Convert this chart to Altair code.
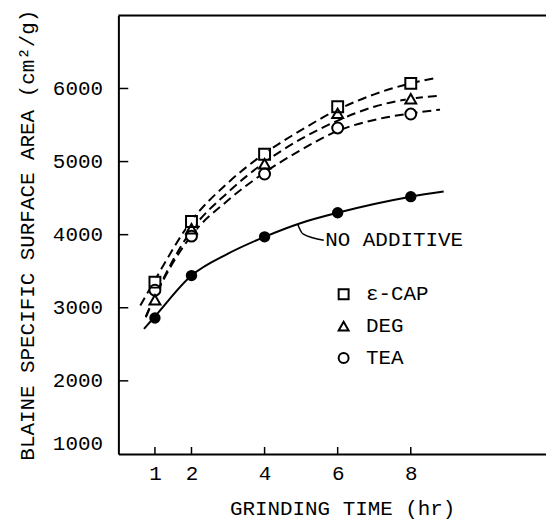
import altair as alt
import pandas as pd

# ---- data ----
times = [1, 2, 4, 6, 8]
series_names = ["ε-CAP", "DEG", "TEA"]
ecap_vals = [3350, 4180, 5100, 5750, 6070]
deg_vals = [3110, 4080, 4970, 5660, 5860]
tea_vals = [3240, 3980, 4830, 5460, 5650]
none_vals = [2860, 3440, 3970, 4300, 4520]

# fitted curves
ecap_curve_t = [0.6, 1, 2, 3, 4, 5, 6, 7, 8, 8.65]
ecap_curve_v = [3030, 3380, 4190, 4710, 5110, 5430, 5710, 5920, 6070, 6140]
deg_curve_t = [0.75, 1, 2, 3, 4, 5, 6, 7, 8, 8.75]
deg_curve_v = [2880, 3160, 4060, 4580, 4990, 5310, 5560, 5750, 5860, 5900]
tea_curve_t = [0.75, 1, 2, 3, 4, 5, 6, 7, 8, 8.8]
tea_curve_v = [2870, 3150, 3990, 4470, 4850, 5160, 5420, 5570, 5660, 5710]
none_curve_t = [0.7, 1, 2, 3, 4, 5, 6, 7, 8, 8.9]
none_curve_v = [2710, 2880, 3440, 3740, 3970, 4160, 4300, 4420, 4520, 4590]

leader_t = [4.9, 5.05, 5.62]
leader_v = [4150, 4010, 3925]
annot_text = ["NO ADDITIVE"]
annot_t = [5.66]
annot_v = [3920]

x_ticks = [1, 2, 4, 6, 8]
y_ticks = [2000, 3000, 4000, 5000, 6000]
y_labels = [1000, 2000, 3000, 4000, 5000, 6000]
x_domain = [0, 11.7]
y_domain = [1000, 7000]

FONT = "Liberation Mono"
FS = 21

# ---- tables ----
pts = pd.DataFrame({
    "t": times * 3,
    "v": ecap_vals + deg_vals + tea_vals,
    "series": [s for s in series_names for _ in times],
})
none_pts = pd.DataFrame({"t": times, "v": none_vals})

rows = []
for name, ts, vs in [("ε-CAP", ecap_curve_t, ecap_curve_v),
                     ("DEG", deg_curve_t, deg_curve_v),
                     ("TEA", tea_curve_t, tea_curve_v)]:
    for i, (t, v) in enumerate(zip(ts, vs)):
        rows.append({"t": t, "v": v, "series": name, "o": i})
dash_curves = pd.DataFrame(rows)
solid_curve = pd.DataFrame({"t": none_curve_t, "v": none_curve_v, "o": range(len(none_curve_t))})
leader = pd.DataFrame({"t": leader_t, "v": leader_v, "o": range(len(leader_t))})
annot = pd.DataFrame({"t": annot_t, "v": annot_v, "label": annot_text})

xt = pd.DataFrame({"t": x_ticks, "v": [y_domain[0]] * len(x_ticks),
                   "v2": [y_domain[0] + 95] * len(x_ticks)})
yt = pd.DataFrame({"v": y_ticks, "t": [x_domain[0]] * len(y_ticks),
                   "t2": [x_domain[0] + 0.27] * len(y_ticks)})
top = pd.DataFrame({"t": [x_domain[0]], "t2": [x_domain[1]], "v": [y_domain[1]]})

xscale = alt.Scale(domain=x_domain, nice=False, zero=False)
yscale = alt.Scale(domain=y_domain, nice=False, zero=False)

xaxis = alt.Axis(values=x_ticks, ticks=False, grid=False, domain=True,
                 domainColor="black", domainWidth=2,
                 labelFont=FONT, labelFontSize=FS, labelColor="black",
                 labelPadding=9, labelFlush=False, format="d",
                 title="GRINDING TIME (hr)", titleFont=FONT, titleFontSize=FS,
                 titleFontWeight="normal", titleColor="black", titlePadding=14,
                 titleX=225, titleAnchor="start", titleAlign="center")
yaxis = alt.Axis(values=y_labels, ticks=False, grid=False, domain=True,
                 domainColor="black", domainWidth=2, format="d",
                 labelFont=FONT, labelFontSize=FS, labelColor="black",
                 labelPadding=16, labelFlush=True,
                 title="BLAINE SPECIFIC SURFACE AREA (cm²/g)", titleFont=FONT,
                 titleFontSize=FS, titleFontWeight="normal", titleColor="black",
                 titlePadding=15)

X = alt.X("t:Q", scale=xscale, axis=xaxis)
Y = alt.Y("v:Q", scale=yscale, axis=yaxis)

dashed = alt.Chart(dash_curves).mark_line(
    color="black", strokeWidth=2, strokeDash=[9, 5], interpolate="monotone"
).encode(x=X, y=Y, detail="series:N", order="o:Q")

solid = alt.Chart(solid_curve).mark_line(
    color="black", strokeWidth=2, interpolate="monotone"
).encode(x=X, y=Y, order="o:Q")

lead = alt.Chart(leader).mark_line(
    color="black", strokeWidth=1.5, interpolate="monotone"
).encode(x=X, y=Y, order="o:Q")

label = alt.Chart(annot).mark_text(
    font=FONT, fontSize=FS, align="left", baseline="middle", color="black"
).encode(x=X, y=Y, text="label:N")

# white backing so that the curves do not show through the hollow markers
backing = alt.Chart(pts).mark_circle(color="white", size=110, opacity=1).encode(x=X, y=Y)

points = alt.Chart(pts).mark_point(
    filled=False, color="black", size=120, opacity=1, strokeWidth=2
).encode(
    x=X, y=Y,
    shape=alt.Shape("series:N",
                    scale=alt.Scale(domain=series_names,
                                    range=["square", "triangle-up", "circle"]),
                    legend=alt.Legend(
                        title=None, orient="none", legendX=216, legendY=270,
                        padding=0, labelFont=FONT, labelFontSize=FS,
                        labelColor="black", labelOffset=12, rowPadding=10,
                        symbolStrokeWidth=2, symbolSize=100)),
)

filled = alt.Chart(none_pts).mark_circle(
    color="black", size=130, opacity=1
).encode(x=X, y=Y)

xtick = alt.Chart(xt).mark_rule(color="black", strokeWidth=1.5).encode(
    x=X, y=Y, y2="v2:Q")
ytick = alt.Chart(yt).mark_rule(color="black", strokeWidth=1.5).encode(
    x=X, x2="t2:Q", y=Y)
topline = alt.Chart(top).mark_rule(color="black", strokeWidth=2).encode(
    x=X, x2="t2:Q", y=Y)

chart = alt.layer(
    topline, xtick, ytick, dashed, solid, lead, label, backing, points, filled
).properties(
    width=430, height=441,
    autosize=alt.AutoSizeParams(type="none"),
    padding={"left": 111, "top": 6, "right": 0, "bottom": 66},
).configure_view(stroke=None).configure(background="white")

chart.save("out.html", embed_options={"renderer": "svg", "actions": False})
